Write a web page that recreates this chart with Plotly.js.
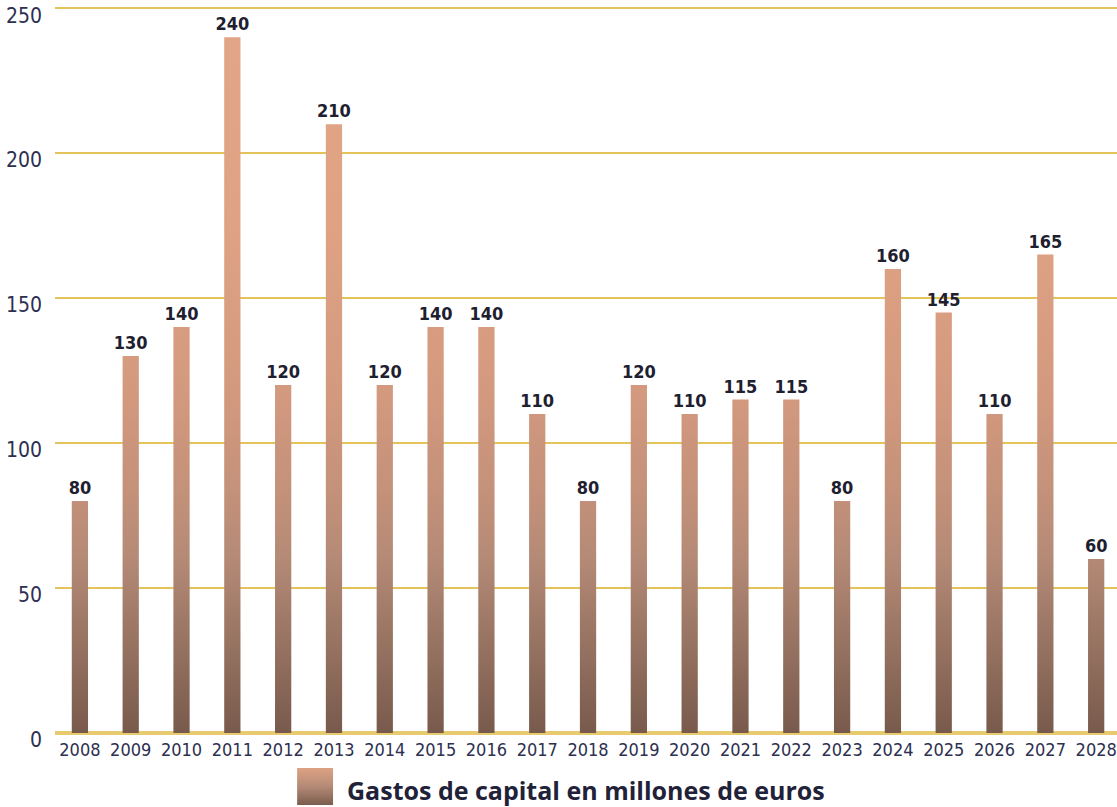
<!DOCTYPE html>
<html>
<head>
<meta charset="utf-8">
<script src="https://cdn.plot.ly/plotly-3.0.1.min.js"></script>
<style>
  html, body { margin: 0; padding: 0; background: #ffffff; }
  #chart { width: 1117px; height: 807px; }
  #chart .xtick text, #chart .ytick text, #chart .bartext { font-stretch: condensed !important; }
</style>
</head>
<body>
<div id="chart"></div>
<script>
// ---- data ----
const years = ['2008','2009','2010','2011','2012','2013','2014','2015','2016','2017','2018',
               '2019','2020','2021','2022','2023','2024','2025','2026','2027','2028'];
const capex = [80, 130, 140, 240, 120, 210, 120, 140, 140, 110, 80,
               120, 110, 115, 115, 80, 160, 145, 110, 165, 60];
const seriesName = 'Gastos de capital en millones de euros';
const yTicks = [0, 50, 100, 150, 200, 250];

const tickColor = '#2d3050';
const gold = '#e3c35a';
const condFont = 'DejaVu Sans';

const trace = {
  type: 'bar',
  x: years,
  y: capex,
  name: seriesName,
  marker: { color: '#c99279', line: { width: 0 } },
  text: capex.map(String),
  texttemplate: '%{text}',
  textposition: 'outside',
  constraintext: 'none',
  cliponaxis: false,
  textfont: { family: condFont, size: 18, color: '#1e2030', weight: 'bold' },
  hoverinfo: 'x+y',
  showlegend: false
};

const layout = {
  width: 1117,
  height: 807,
  margin: { l: 55, r: 0, t: 7, b: 74 },
  paper_bgcolor: '#ffffff',
  plot_bgcolor: '#ffffff',
  bargap: 0.68,
  showlegend: false,
  xaxis: {
    type: 'category',
    range: [-0.49, 20.41],
    showgrid: false,
    zeroline: false,
    showline: false,
    ticks: '',
    tickfont: { family: condFont, size: 18, color: tickColor },
    ticklabelstandoff: 4
  },
  yaxis: {
    range: [0, 250.4],
    tickvals: yTicks,
    ticktext: yTicks.map(String),
    showgrid: true,
    gridcolor: gold,
    gridwidth: 2.5,
    zeroline: true,
    zerolinecolor: '#e8cb6e',
    zerolinewidth: 4,
    showline: false,
    ticks: '',
    ticklabelstandoff: 12,
    ticklabelshift: 7,
    tickfont: { family: condFont, size: 21, color: tickColor }
  },
  shapes: [{
    type: 'rect',
    xref: 'paper', yref: 'paper',
    x0: 0.228, x1: 0.2618,
    y0: -0.0483, y1: -0.0993,
    fillcolor: '#c99279',
    line: { width: 0 },
    layer: 'above'
  }],
  annotations: [{
    xref: 'paper', yref: 'paper',
    x: 0.273, y: -0.0786,
    xanchor: 'left', yanchor: 'middle',
    text: seriesName,
    showarrow: false,
    font: { family: 'Open Sans', size: 25, color: '#1f2238', weight: 'bold' }
  }]
};

const gd = document.getElementById('chart');
Plotly.newPlot(gd, [trace], layout, { displayModeBar: false, staticPlot: true }).then(function () {
  const svgNS = 'http://www.w3.org/2000/svg';
  const svg = gd.querySelector('.main-svg');
  let defs = svg.querySelector('defs');
  if (!defs) { defs = document.createElementNS(svgNS, 'defs'); svg.insertBefore(defs, svg.firstChild); }
  const ya = gd._fullLayout.yaxis;
  const yTop = ya.l2p(250), yBot = ya.l2p(0);

  function makeGrad(id, units, y1, y2, stops) {
    const g = document.createElementNS(svgNS, 'linearGradient');
    g.setAttribute('id', id);
    g.setAttribute('gradientUnits', units);
    g.setAttribute('x1', 0); g.setAttribute('x2', 0);
    g.setAttribute('y1', y1); g.setAttribute('y2', y2);
    stops.forEach(function (s) {
      const st = document.createElementNS(svgNS, 'stop');
      st.setAttribute('offset', s[0]);
      st.setAttribute('stop-color', s[1]);
      g.appendChild(st);
    });
    defs.appendChild(g);
  }
  makeGrad('barGrad', 'userSpaceOnUse', yTop, yBot, [
    [0, '#e2a585'], [0.3, '#dfa283'], [0.52, '#d49a7f'], [0.68, '#c29079'],
    [0.76, '#b48a76'], [1, '#785a4c']
  ]);
  makeGrad('legGrad', 'objectBoundingBox', 0, 1, [
    [0, '#dea283'], [0.5, '#b48a76'], [1, '#7a5c4e']
  ]);
  gd.querySelectorAll('.trace.bars .point path').forEach(function (p) {
    p.style.fill = 'url(#barGrad)';
  });
  gd.querySelectorAll('.shapelayer path').forEach(function (p) {
    p.style.fill = 'url(#legGrad)';
    p.style.fillOpacity = 1;
  });
});
</script>
</body>
</html>
